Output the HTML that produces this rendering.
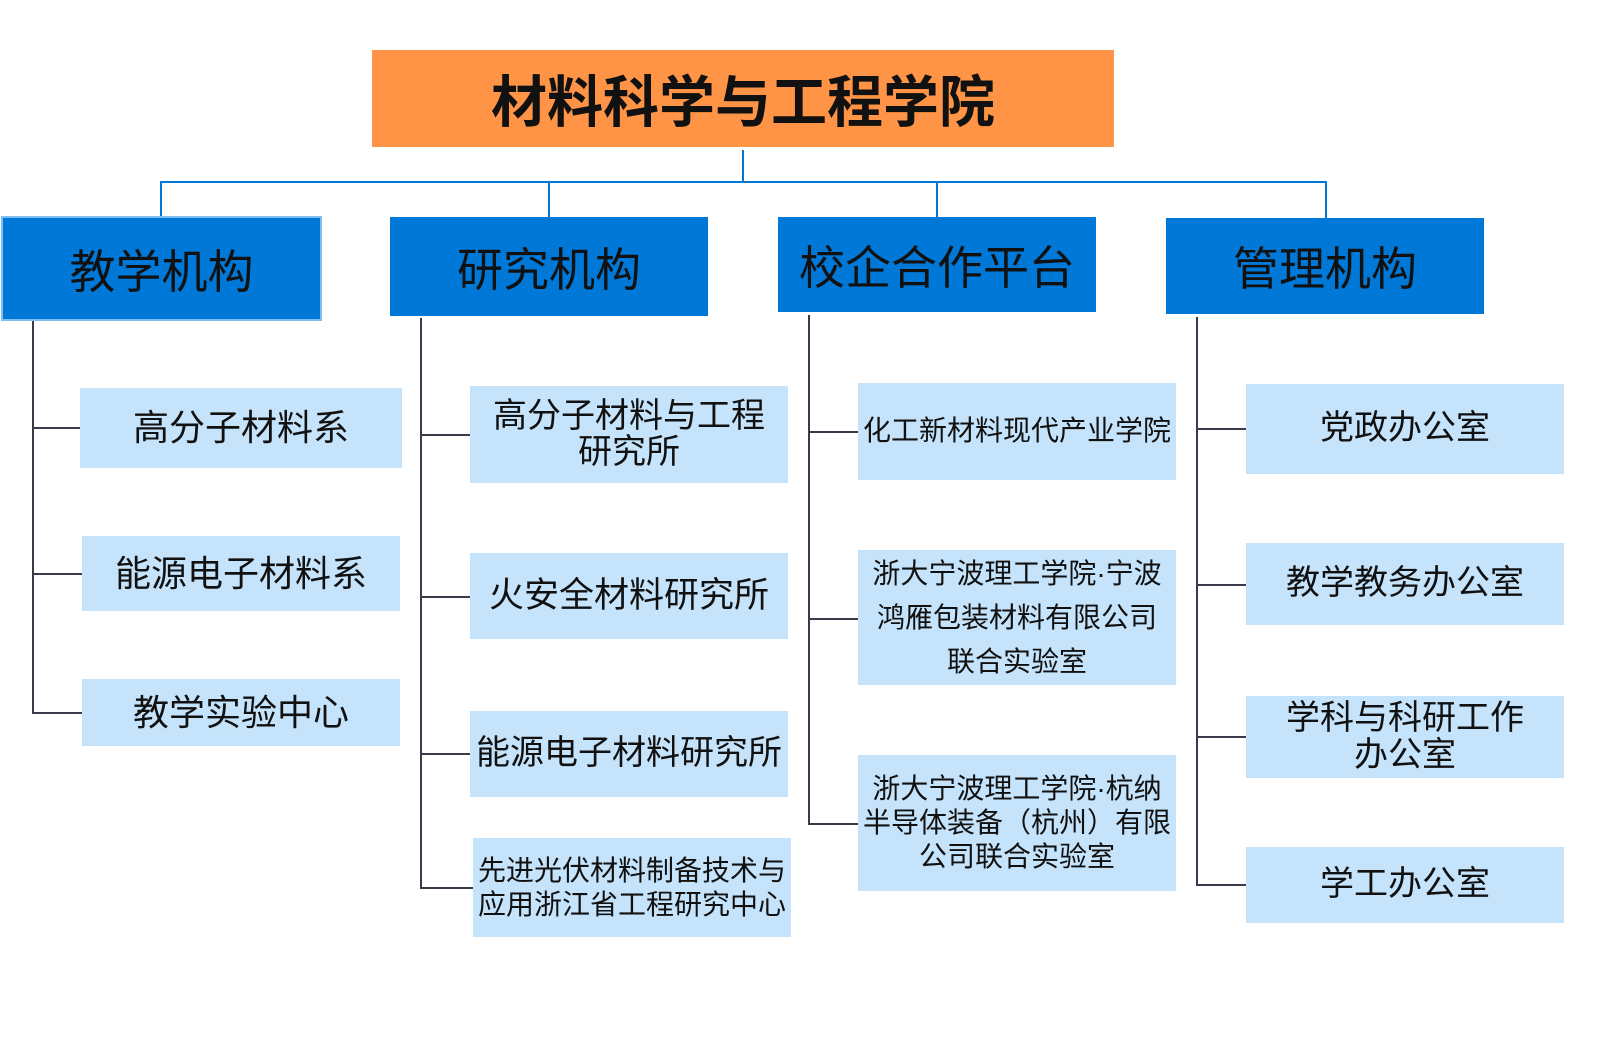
<!DOCTYPE html>
<html><head><meta charset="utf-8"><style>
body{margin:0;width:1611px;height:1046px;background:#fff;position:relative;overflow:hidden;font-family:"Liberation Sans","Noto Sans CJK SC",sans-serif;}
.b{position:absolute;display:flex;align-items:center;justify-content:center;text-align:center;color:#111;box-sizing:border-box;}
.t{background:#FF9447;font-weight:bold;font-size:56px;}
.m{background:#0078D7;font-size:46px;}
.c{background:#C5E3FA;font-size:36px;line-height:1.1;}
.l{position:absolute;background:#0078D7;}
.d{position:absolute;background:#3a3a4a;}
</style></head><body>
<div class="b t" style="left:372px;top:50px;width:742px;height:97px;">材料科学与工程学院</div>
<div class="l" style="left:742px;top:150px;width:2px;height:33px"></div>
<div class="l" style="left:161px;top:181px;width:1166px;height:2px"></div>
<div class="l" style="left:160px;top:181px;width:2px;height:35px"></div>
<div class="l" style="left:548px;top:181px;width:2px;height:36px"></div>
<div class="l" style="left:936px;top:181px;width:2px;height:36px"></div>
<div class="l" style="left:1325px;top:181px;width:2px;height:37px"></div>

<div class="b m" style="left:1px;top:216px;width:321px;height:105px;border:2px solid #7cc0f5">教学机构</div>
<div class="b m" style="left:390px;top:217px;width:318px;height:99px">研究机构</div>
<div class="b m" style="left:778px;top:217px;width:318px;height:95px">校企合作平台</div>
<div class="b m" style="left:1166px;top:218px;width:318px;height:96px">管理机构</div>

<div class="d" style="left:32px;top:321px;width:2px;height:393px"></div>
<div class="d" style="left:32px;top:427px;width:48px;height:2px"></div>
<div class="d" style="left:32px;top:573px;width:50px;height:2px"></div>
<div class="d" style="left:32px;top:712px;width:50px;height:2px"></div>
<div class="b c" style="left:80px;top:388px;width:322px;height:80px">高分子材料系</div>
<div class="b c" style="left:82px;top:536px;width:318px;height:75px">能源电子材料系</div>
<div class="b c" style="left:82px;top:679px;width:318px;height:67px">教学实验中心</div>

<div class="d" style="left:420px;top:318px;width:2px;height:571px"></div>
<div class="d" style="left:420px;top:434px;width:50px;height:2px"></div>
<div class="d" style="left:420px;top:596px;width:50px;height:2px"></div>
<div class="d" style="left:420px;top:753px;width:50px;height:2px"></div>
<div class="d" style="left:420px;top:887px;width:53px;height:2px"></div>
<div class="b c" style="left:470px;top:386px;width:318px;height:97px;font-size:34px;line-height:1.05">高分子材料与工程<br>研究所</div>
<div class="b c" style="left:470px;top:553px;width:318px;height:86px;font-size:35px">火安全材料研究所</div>
<div class="b c" style="left:470px;top:711px;width:318px;height:86px;font-size:34px">能源电子材料研究所</div>
<div class="b c" style="left:473px;top:838px;width:318px;height:99px;font-size:28px;line-height:1.2">先进光伏材料制备技术与<br>应用浙江省工程研究中心</div>

<div class="d" style="left:808px;top:315px;width:2px;height:510px"></div>
<div class="d" style="left:808px;top:431px;width:50px;height:2px"></div>
<div class="d" style="left:808px;top:618px;width:50px;height:2px"></div>
<div class="d" style="left:808px;top:823px;width:50px;height:2px"></div>
<div class="b c" style="left:858px;top:383px;width:318px;height:97px;font-size:28px">化工新材料现代产业学院</div>
<div class="b c" style="left:858px;top:550px;width:318px;height:135px;font-size:28px;line-height:44px">浙大宁波理工学院·宁波<br>鸿雁包装材料有限公司<br>联合实验室</div>
<div class="b c" style="left:858px;top:755px;width:318px;height:136px;font-size:28px;line-height:34px">浙大宁波理工学院·杭纳<br>半导体装备（杭州）有限<br>公司联合实验室</div>

<div class="d" style="left:1196px;top:317px;width:2px;height:569px"></div>
<div class="d" style="left:1196px;top:428px;width:50px;height:2px"></div>
<div class="d" style="left:1196px;top:584px;width:50px;height:2px"></div>
<div class="d" style="left:1196px;top:736px;width:50px;height:2px"></div>
<div class="d" style="left:1196px;top:884px;width:50px;height:2px"></div>
<div class="b c" style="left:1246px;top:384px;width:318px;height:90px;font-size:34px">党政办公室</div>
<div class="b c" style="left:1246px;top:543px;width:318px;height:82px;font-size:34px">教学教务办公室</div>
<div class="b c" style="left:1246px;top:696px;width:318px;height:82px;font-size:34px;line-height:1.1">学科与科研工作<br>办公室</div>
<div class="b c" style="left:1246px;top:847px;width:318px;height:76px;font-size:34px">学工办公室</div>
</body></html>
